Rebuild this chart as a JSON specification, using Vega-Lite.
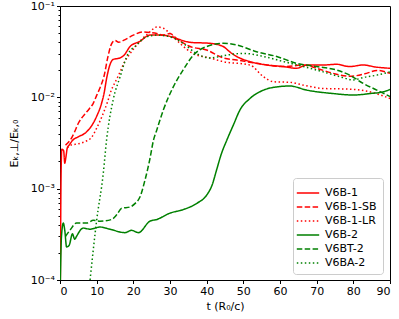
{
  "$schema": "https://vega.github.io/schema/vega-lite/v6.json",
  "autosize": {"type": "none"},
  "width": 330,
  "height": 274,
  "padding": {"left": 60, "top": 6, "right": 9, "bottom": 39},
  "config": {
    "font": "DejaVu Sans",
    "view": {"stroke": "black", "strokeWidth": 1},
    "axis": {"grid": false, "domainColor": "black", "tickColor": "black", "labelColor": "black", "titleColor": "black", "labelFontSize": 11, "titleFontSize": 11, "titleFontWeight": "normal", "tickSize": 3.5, "labelPadding": 2}
  },
  "data": {"values": [
    {"s":"V6B-1","t":0.1,"y":0.0001},{"s":"V6B-1","t":0.3,"y":0.0015},{"s":"V6B-1","t":0.5,"y":0.0027},{"s":"V6B-1","t":1.0,"y":0.0026},{"s":"V6B-1","t":1.3,"y":0.0019},{"s":"V6B-1","t":1.6,"y":0.0022},{"s":"V6B-1","t":2.0,"y":0.0028},{"s":"V6B-1","t":2.5,"y":0.003},{"s":"V6B-1","t":3.5,"y":0.0034},{"s":"V6B-1","t":5,"y":0.0037},{"s":"V6B-1","t":7,"y":0.0041},{"s":"V6B-1","t":8.5,"y":0.0048},{"s":"V6B-1","t":10,"y":0.0062},{"s":"V6B-1","t":11.3,"y":0.0085},{"s":"V6B-1","t":12,"y":0.011},{"s":"V6B-1","t":12.7,"y":0.016},{"s":"V6B-1","t":13.5,"y":0.022},{"s":"V6B-1","t":14.5,"y":0.026},{"s":"V6B-1","t":16.4,"y":0.027},{"s":"V6B-1","t":17.5,"y":0.029},{"s":"V6B-1","t":19.1,"y":0.036},{"s":"V6B-1","t":21.8,"y":0.041},{"s":"V6B-1","t":24.5,"y":0.048},{"s":"V6B-1","t":27.3,"y":0.048},{"s":"V6B-1","t":29.5,"y":0.047},{"s":"V6B-1","t":31.8,"y":0.044},{"s":"V6B-1","t":35.5,"y":0.040},{"s":"V6B-1","t":40.9,"y":0.039},{"s":"V6B-1","t":44.5,"y":0.036},{"s":"V6B-1","t":46.5,"y":0.031},{"s":"V6B-1","t":48.2,"y":0.028},{"s":"V6B-1","t":51.8,"y":0.0246},{"s":"V6B-1","t":56.4,"y":0.0226},{"s":"V6B-1","t":61,"y":0.0217},{"s":"V6B-1","t":64.5,"y":0.0208},{"s":"V6B-1","t":67.3,"y":0.0226},{"s":"V6B-1","t":71.8,"y":0.0226},{"s":"V6B-1","t":75.5,"y":0.023},{"s":"V6B-1","t":79,"y":0.0217},{"s":"V6B-1","t":82.7,"y":0.0226},{"s":"V6B-1","t":86,"y":0.0215},{"s":"V6B-1","t":90,"y":0.0208},
    {"s":"V6B-1-SB","t":1.5,"y":0.003},{"s":"V6B-1-SB","t":3,"y":0.0035},{"s":"V6B-1-SB","t":4,"y":0.0042},{"s":"V6B-1-SB","t":5,"y":0.0052},{"s":"V6B-1-SB","t":6,"y":0.006},{"s":"V6B-1-SB","t":7,"y":0.0067},{"s":"V6B-1-SB","t":8,"y":0.0075},{"s":"V6B-1-SB","t":9,"y":0.0085},{"s":"V6B-1-SB","t":10,"y":0.0105},{"s":"V6B-1-SB","t":11,"y":0.013},{"s":"V6B-1-SB","t":12,"y":0.017},{"s":"V6B-1-SB","t":13,"y":0.027},{"s":"V6B-1-SB","t":14,"y":0.038},{"s":"V6B-1-SB","t":15,"y":0.042},{"s":"V6B-1-SB","t":16,"y":0.04},{"s":"V6B-1-SB","t":17.3,"y":0.042},{"s":"V6B-1-SB","t":20,"y":0.048},{"s":"V6B-1-SB","t":22.7,"y":0.052},{"s":"V6B-1-SB","t":25,"y":0.051},{"s":"V6B-1-SB","t":26.4,"y":0.05},{"s":"V6B-1-SB","t":28.2,"y":0.048},{"s":"V6B-1-SB","t":30,"y":0.05},{"s":"V6B-1-SB","t":31.8,"y":0.044},{"s":"V6B-1-SB","t":35.5,"y":0.036},{"s":"V6B-1-SB","t":40,"y":0.033},{"s":"V6B-1-SB","t":44.5,"y":0.027},{"s":"V6B-1-SB","t":48.2,"y":0.0256},{"s":"V6B-1-SB","t":53.6,"y":0.0236},{"s":"V6B-1-SB","t":61,"y":0.0217},{"s":"V6B-1-SB","t":66.4,"y":0.0226},{"s":"V6B-1-SB","t":70,"y":0.0208},{"s":"V6B-1-SB","t":74.5,"y":0.0183},{"s":"V6B-1-SB","t":79,"y":0.017},{"s":"V6B-1-SB","t":83.6,"y":0.0183},{"s":"V6B-1-SB","t":86.4,"y":0.0197},{"s":"V6B-1-SB","t":90,"y":0.0183},
    {"s":"V6B-1-LR","t":2,"y":0.0028},{"s":"V6B-1-LR","t":3,"y":0.003},{"s":"V6B-1-LR","t":5,"y":0.0031},{"s":"V6B-1-LR","t":7,"y":0.0033},{"s":"V6B-1-LR","t":8.5,"y":0.0036},{"s":"V6B-1-LR","t":10,"y":0.0046},{"s":"V6B-1-LR","t":12,"y":0.007},{"s":"V6B-1-LR","t":13,"y":0.009},{"s":"V6B-1-LR","t":14,"y":0.012},{"s":"V6B-1-LR","t":15,"y":0.0145},{"s":"V6B-1-LR","t":16.4,"y":0.019},{"s":"V6B-1-LR","t":17.5,"y":0.024},{"s":"V6B-1-LR","t":19.1,"y":0.03},{"s":"V6B-1-LR","t":21.8,"y":0.041},{"s":"V6B-1-LR","t":24.5,"y":0.052},{"s":"V6B-1-LR","t":26.4,"y":0.059},{"s":"V6B-1-LR","t":28.2,"y":0.057},{"s":"V6B-1-LR","t":30,"y":0.05},{"s":"V6B-1-LR","t":32.7,"y":0.039},{"s":"V6B-1-LR","t":36.4,"y":0.03},{"s":"V6B-1-LR","t":40.9,"y":0.027},{"s":"V6B-1-LR","t":44.5,"y":0.0246},{"s":"V6B-1-LR","t":51.8,"y":0.0226},{"s":"V6B-1-LR","t":55.5,"y":0.0168},{"s":"V6B-1-LR","t":58.2,"y":0.0148},{"s":"V6B-1-LR","t":62.7,"y":0.0146},{"s":"V6B-1-LR","t":66.4,"y":0.0136},{"s":"V6B-1-LR","t":71.8,"y":0.0125},{"s":"V6B-1-LR","t":79,"y":0.0123},{"s":"V6B-1-LR","t":84.5,"y":0.0115},{"s":"V6B-1-LR","t":90,"y":0.0097},
    {"s":"V6B-2","t":0.1,"y":0.0001},{"s":"V6B-2","t":0.4,"y":0.0003},{"s":"V6B-2","t":0.9,"y":0.00042},{"s":"V6B-2","t":1.3,"y":0.00035},{"s":"V6B-2","t":1.8,"y":0.00023},{"s":"V6B-2","t":2.5,"y":0.00024},{"s":"V6B-2","t":3.4,"y":0.00032},{"s":"V6B-2","t":4.0,"y":0.00028},{"s":"V6B-2","t":4.5,"y":0.0003},{"s":"V6B-2","t":5.3,"y":0.00034},{"s":"V6B-2","t":6.3,"y":0.00037},{"s":"V6B-2","t":8.2,"y":0.00036},{"s":"V6B-2","t":10.9,"y":0.00038},{"s":"V6B-2","t":13.6,"y":0.00036},{"s":"V6B-2","t":17.7,"y":0.00033},{"s":"V6B-2","t":19.5,"y":0.00035},{"s":"V6B-2","t":21.4,"y":0.00033},{"s":"V6B-2","t":24.5,"y":0.00044},{"s":"V6B-2","t":26.4,"y":0.00046},{"s":"V6B-2","t":30,"y":0.00054},{"s":"V6B-2","t":33.6,"y":0.00059},{"s":"V6B-2","t":37.3,"y":0.00069},{"s":"V6B-2","t":40,"y":0.00085},{"s":"V6B-2","t":41.5,"y":0.0011},{"s":"V6B-2","t":42.7,"y":0.0016},{"s":"V6B-2","t":44,"y":0.0024},{"s":"V6B-2","t":45.5,"y":0.0034},{"s":"V6B-2","t":47.3,"y":0.005},{"s":"V6B-2","t":49.1,"y":0.0073},{"s":"V6B-2","t":51.8,"y":0.0097},{"s":"V6B-2","t":55.5,"y":0.012},{"s":"V6B-2","t":59.1,"y":0.013},{"s":"V6B-2","t":62.7,"y":0.0133},{"s":"V6B-2","t":67.3,"y":0.012},{"s":"V6B-2","t":74.5,"y":0.011},{"s":"V6B-2","t":80,"y":0.0106},{"s":"V6B-2","t":84.5,"y":0.011},{"s":"V6B-2","t":88.2,"y":0.0115},{"s":"V6B-2","t":90,"y":0.0122},
    {"s":"V6BT-2","t":1.5,"y":0.0003},{"s":"V6BT-2","t":2.7,"y":0.00035},{"s":"V6BT-2","t":4.5,"y":0.00042},{"s":"V6BT-2","t":7.3,"y":0.00042},{"s":"V6BT-2","t":9.1,"y":0.00045},{"s":"V6BT-2","t":10.9,"y":0.00044},{"s":"V6BT-2","t":14.1,"y":0.00046},{"s":"V6BT-2","t":15.5,"y":0.00052},{"s":"V6BT-2","t":16.8,"y":0.00061},{"s":"V6BT-2","t":19.1,"y":0.00063},{"s":"V6BT-2","t":20.5,"y":0.00069},{"s":"V6BT-2","t":21.8,"y":0.00081},{"s":"V6BT-2","t":23.2,"y":0.00125},{"s":"V6BT-2","t":24.5,"y":0.0021},{"s":"V6BT-2","t":25.5,"y":0.0034},{"s":"V6BT-2","t":26.4,"y":0.0044},{"s":"V6BT-2","t":28.2,"y":0.0073},{"s":"V6BT-2","t":30.9,"y":0.013},{"s":"V6BT-2","t":33.6,"y":0.02},{"s":"V6BT-2","t":36.4,"y":0.029},{"s":"V6BT-2","t":40,"y":0.036},{"s":"V6BT-2","t":44.5,"y":0.039},{"s":"V6BT-2","t":48.2,"y":0.0374},{"s":"V6BT-2","t":53.6,"y":0.0316},{"s":"V6BT-2","t":59.1,"y":0.028},{"s":"V6BT-2","t":64.5,"y":0.0236},{"s":"V6BT-2","t":70,"y":0.0217},{"s":"V6BT-2","t":75.5,"y":0.0199},{"s":"V6BT-2","t":79,"y":0.0175},{"s":"V6BT-2","t":82.7,"y":0.0142},{"s":"V6BT-2","t":86.4,"y":0.012},{"s":"V6BT-2","t":90,"y":0.0102},
    {"s":"V6BA-2","t":8.2,"y":0.0001},{"s":"V6BA-2","t":10,"y":0.00045},{"s":"V6BA-2","t":11.8,"y":0.00147},{"s":"V6BA-2","t":12.7,"y":0.0034},{"s":"V6BA-2","t":14.5,"y":0.0094},{"s":"V6BA-2","t":16.4,"y":0.0168},{"s":"V6BA-2","t":18.2,"y":0.028},{"s":"V6BA-2","t":20.9,"y":0.0374},{"s":"V6BA-2","t":23.6,"y":0.046},{"s":"V6BA-2","t":26.4,"y":0.048},{"s":"V6BA-2","t":30,"y":0.046},{"s":"V6BA-2","t":33.6,"y":0.039},{"s":"V6BA-2","t":37.3,"y":0.03},{"s":"V6BA-2","t":40.9,"y":0.027},{"s":"V6BA-2","t":45.5,"y":0.029},{"s":"V6BA-2","t":50,"y":0.0303},{"s":"V6BA-2","t":55.5,"y":0.028},{"s":"V6BA-2","t":61,"y":0.0246},{"s":"V6BA-2","t":66.4,"y":0.0217},{"s":"V6BA-2","t":71.8,"y":0.019},{"s":"V6BA-2","t":76.4,"y":0.0168},{"s":"V6BA-2","t":80,"y":0.0155},{"s":"V6BA-2","t":82.7,"y":0.0165},{"s":"V6BA-2","t":86.4,"y":0.0175},{"s":"V6BA-2","t":90,"y":0.019}
  ]},
  "mark": {"type": "line", "strokeWidth": 1.5, "interpolate": "monotone", "clip": true},
  "encoding": {
    "x": {"field": "t", "type": "quantitative", "scale": {"domain": [0, 90], "nice": false},
      "axis": {"values": [0,10,20,30,40,50,60,70,80,90], "title": "t (R₀/c)", "titlePadding": 4}},
    "y": {"field": "y", "type": "quantitative", "scale": {"type": "log", "domain": [0.0001, 0.1], "nice": false},
      "axis": {
        "values": [0.0001,0.0002,0.0003,0.0004,0.0005,0.0006,0.0007,0.0008,0.0009,0.001,0.002,0.003,0.004,0.005,0.006,0.007,0.008,0.009,0.01,0.02,0.03,0.04,0.05,0.06,0.07,0.08,0.09,0.1],
        "labelExpr": "datum.value==0.1?'10⁻¹':datum.value==0.01?'10⁻²':datum.value==0.001?'10⁻³':datum.value==0.0001?'10⁻⁴':''",
        "tickSize": {"condition": {"test": "datum.value==0.1||datum.value==0.01||datum.value==0.001||datum.value==0.0001", "value": 3.5}, "value": 2},
        "title": "Eₖ,⊥/Eₖ,₀", "titlePadding": 11}},
    "color": {"field": "s", "type": "nominal",
      "scale": {"domain": ["V6B-1","V6B-1-SB","V6B-1-LR","V6B-2","V6BT-2","V6BA-2"], "range": ["#ff0000","#ff0000","#ff0000","#008000","#008000","#008000"]},
      "legend": {"title": null, "orient": "none", "legendX": 233, "legendY": 172, "symbolType": "M-1.4,0H1.4", "symbolSize": 256, "symbolStrokeWidth": 1.5, "labelFontSize": 11, "labelColor": "black", "fillColor": "white", "strokeColor": "#cccccc", "cornerRadius": 3, "padding": 6, "rowPadding": 0, "labelOffset": 8}},
    "strokeDash": {"field": "s", "type": "nominal",
      "scale": {"domain": ["V6B-1","V6B-1-SB","V6B-1-LR","V6B-2","V6BT-2","V6BA-2"], "range": [[1,0],[5.5,2.4],[1.5,2.5],[1,0],[5.5,2.4],[1.5,2.5]]}}
  }
}
